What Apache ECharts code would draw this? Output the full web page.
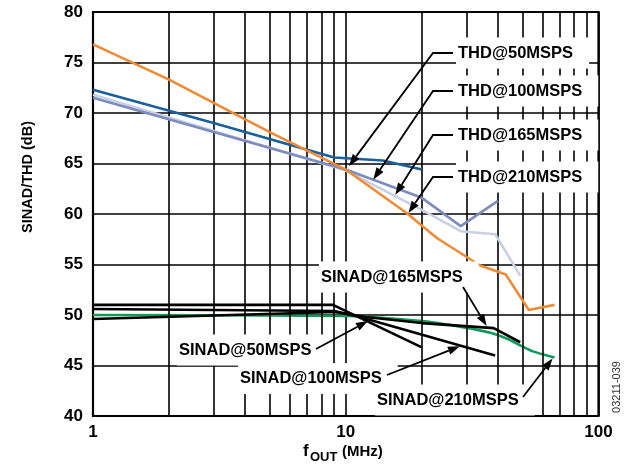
<!DOCTYPE html>
<html><head><meta charset="utf-8">
<script src="https://cdn.jsdelivr.net/npm/echarts@6/dist/echarts.min.js"></script>
<style>html,body{margin:0;padding:0;background:#fff}#c{width:630px;height:466px}</style>
</head><body><div id="c"></div>
<script>
// ---- data ----
const fThd50 = [1, 3, 9, 14, 20];
const thd50 = [72.3, 69.0, 65.6, 65.3, 64.4];
const fThd100 = [1, 10, 20, 28.5, 40];
const thd100 = [71.5, 64.4, 61.6, 58.8, 61.3];
const fThd165 = [1, 10, 20, 28.5, 39, 49];
const thd165 = [71.8, 64.3, 60.4, 58.3, 58.0, 53.9];
const fThd210 = [1, 2, 5, 10, 17.4, 23, 34, 43, 53, 67];
const thd210 = [76.8, 73.3, 68.1, 64.4, 60.1, 57.6, 54.9, 54.0, 50.5, 51.0];

const fSinad50 = [1, 8.9, 20];
const sinad50 = [51.0, 51.0, 46.8];
const fSinad100 = [1, 9, 11, 39];
const sinad100 = [50.6, 50.4, 49.9, 46.0];
const fSinad165 = [1, 9, 12, 20, 38.5, 49];
const sinad165 = [49.6, 50.3, 49.8, 49.2, 48.7, 47.3];
const fSinad210 = [1, 10, 20, 29, 38, 44, 49, 55, 67];
const sinad210 = [50.0, 49.9, 49.4, 48.8, 48.2, 47.6, 47.0, 46.4, 45.8];

const minorFreqs = [2, 3, 4, 5, 6, 7, 8, 9, 20, 30, 40, 50, 60, 70, 80, 90];
const xTickLabels = ['1', '10', '100'];

// annotation texts and the data points their arrows point to
const labelTexts = ['THD@50MSPS', 'THD@100MSPS', 'THD@165MSPS', 'THD@210MSPS',
  'SINAD@165MSPS', 'SINAD@50MSPS', 'SINAD@100MSPS', 'SINAD@210MSPS'];
const labelTips = [[10.3, 64.75], [12.85, 63.4], [15.7, 61.9], [17.7, 60.1],
  [36.1, 48.9], [12.25, 49.4], [28.3, 46.9], [65.8, 45.7]];

// ---- layout (pixels) ----
const labelLayout = [
  {x: 456, y: 53, path: [[453, 53], [433, 53]]},
  {x: 456, y: 91, path: [[453, 91], [433, 91]]},
  {x: 456, y: 135, path: [[453, 135], [433, 135]]},
  {x: 456, y: 177, path: [[453, 177], [433, 177]]},
  {x: 319, y: 277, path: [[463, 287]]},
  {x: 177, y: 350, path: [[316, 349]]},
  {x: 238, y: 378.5, path: [[387, 375]]},
  {x: 375, y: 400, path: [[523, 397]]}
];

const FONT = '"Liberation Sans", Arial, sans-serif';
const pairs = (f, v) => f.map((x, i) => [x, v[i]]);

function line(name, f, v, color, extra) {
  return Object.assign({
    name, type: 'line', data: pairs(f, v), showSymbol: false, symbol: 'none',
    lineStyle: {color, width: 2.6}, itemStyle: {color}, animation: false, silent: true
  }, extra || {});
}

const series = [
  line('SINAD@210MSPS', fSinad210, sinad210, '#0f9a5a', {smooth: 0.25, z: 3,
    markLine: {
      silent: true, symbol: ['none', 'none'], animation: false,
      label: {show: false},
      lineStyle: {color: '#000', width: 1.6, type: 'solid'},
      data: minorFreqs.map(v => ({xAxis: v}))
    }}),
  line('SINAD@50MSPS', fSinad50, sinad50, '#000', {z: 4}),
  line('SINAD@100MSPS', fSinad100, sinad100, '#000', {z: 4}),
  line('SINAD@165MSPS', fSinad165, sinad165, '#000', {z: 4}),
  line('THD@165MSPS', fThd165, thd165, '#c9d0e6', {z: 5}),
  line('THD@100MSPS', fThd100, thd100, '#7b8dbf', {z: 6}),
  line('THD@50MSPS', fThd50, thd50, '#1a5f9e', {z: 7}),
  line('THD@210MSPS', fThd210, thd210, '#f08a35', {z: 8})
];

const option = {
  backgroundColor: '#fff',
  animation: false,
  grid: {left: 93, right: 31.5, top: 12, bottom: 50, show: true,
    borderColor: '#000', borderWidth: 2.2, backgroundColor: 'transparent'},
  xAxis: {
    type: 'log', logBase: 10, min: 1, max: 100,
    axisLine: {show: false}, axisTick: {show: false},
    splitLine: {show: true, lineStyle: {color: '#000', width: 1.6}},
    axisLabel: {fontFamily: FONT, fontWeight: 'bold', fontSize: 17, color: '#000', margin: 8,
      formatter: v => { const i = Math.round(Math.log10(v)); return xTickLabels[i] || ''; }}
  },
  yAxis: {
    type: 'value', min: 40, max: 80, interval: 5,
    axisLine: {show: false}, axisTick: {show: false},
    splitLine: {show: true, lineStyle: {color: '#000', width: 1.6}},
    axisLabel: {fontFamily: FONT, fontWeight: 'bold', fontSize: 17, color: '#000', margin: 10}
  },
  series
};

const chart = echarts.init(document.getElementById('c'));
chart.setOption(option);

const g = [];
labelTexts.forEach((t, i) => {
  const L = labelLayout[i];
  const tip = chart.convertToPixel({gridIndex: 0}, labelTips[i]);
  const pts = L.path.concat([tip]);
  const n = pts.length, p = pts[n - 2];
  const dx = tip[0] - p[0], dy = tip[1] - p[1], len = Math.hypot(dx, dy);
  const ux = dx / len, uy = dy / len, ah = 12, aw = 4.2;
  const base = [tip[0] - ux * ah, tip[1] - uy * ah];
  g.push({type: 'text', x: L.x, y: L.y, z: 99,
    style: {text: t, font: 'bold 16.5px ' + FONT, fill: '#000', align: 'left', verticalAlign: 'middle',
      backgroundColor: '#fff', padding: [7, 16, 7, 2]}});
  g.push({type: 'polyline', z: 100, shape: {points: pts.slice(0, n - 1).concat([base])},
    style: {stroke: '#000', lineWidth: 1.8, fill: null}});
  g.push({type: 'polygon', z: 100,
    shape: {points: [tip, [base[0] - uy * aw, base[1] + ux * aw], [base[0] + uy * aw, base[1] - ux * aw]]},
    style: {fill: '#000'}});
});
// axis titles
g.push({type: 'text', x: 28, y: 177, rotation: Math.PI / 2, z: 99,
  style: {text: 'SINAD/THD (dB)', font: 'bold 14.5px ' + FONT, fill: '#000', align: 'center', verticalAlign: 'middle'}});
g.push({type: 'text', x: 303, y: 451, z: 99,
  style: {text: 'f', font: 'bold 17px ' + FONT, fill: '#000', align: 'left', verticalAlign: 'middle'}});
g.push({type: 'text', x: 310, y: 457, z: 99,
  style: {text: 'OUT', font: 'bold 13px ' + FONT, fill: '#000', align: 'left', verticalAlign: 'middle'}});
g.push({type: 'text', x: 342, y: 452, z: 99,
  style: {text: '(MHz)', font: 'bold 15px ' + FONT, fill: '#000', align: 'left', verticalAlign: 'middle'}});
g.push({type: 'text', x: 617, y: 387, rotation: Math.PI / 2, z: 99,
  style: {text: '03211-039', font: '11px ' + FONT, fill: '#333', align: 'center', verticalAlign: 'middle'}});
chart.setOption({graphic: {elements: g}});
</script>
</body></html>
